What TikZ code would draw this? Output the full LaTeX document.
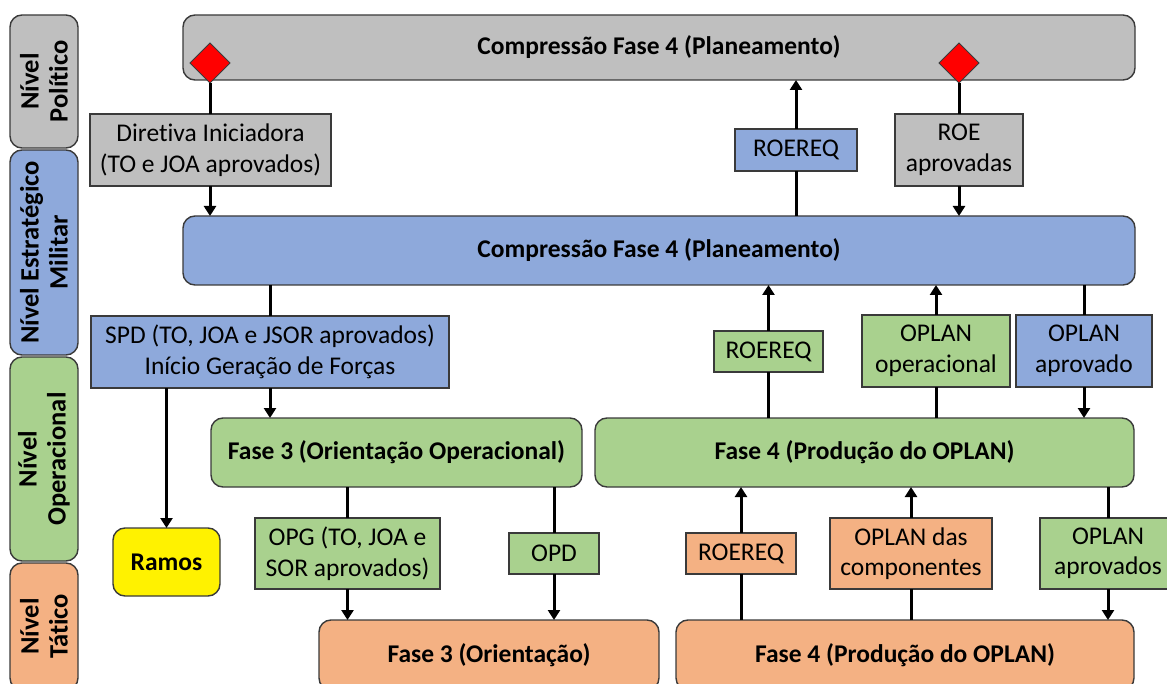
\documentclass[tikz,border=0pt]{standalone}
\usepackage{fontspec}
\setmainfont{Carlito}[Ligatures=NoCommon]
\usetikzlibrary{arrows.meta,shapes.geometric}

\definecolor{polgray}{HTML}{BFBFBF}
\definecolor{estblue}{HTML}{8EA9DB}
\definecolor{opgreen}{HTML}{A9D18E}
\definecolor{taorange}{HTML}{F4B183}
\definecolor{edgegray}{HTML}{3A3A3A}

\tikzset{
  every node/.style={font=\fontsize{25.5}{30.5}\selectfont, text=black, align=center,
                     inner sep=0pt, outer sep=0pt},
  rbox/.style={draw=edgegray, line width=1.4pt},
  phase/.style={rbox, rounded corners=12pt, font=\fontsize{25.5}{30.5}\selectfont\bfseries},
  level/.style={rbox, rounded corners=12pt, rotate=90, minimum height=68pt,
                font=\fontsize{26.5}{29}\selectfont\bfseries},
  flag/.style={diamond, draw=edgegray, line width=1pt, fill=red, minimum size=40pt},
  link/.style={line width=3pt, draw=black},
  flow/.style={link, -{Triangle[width=12pt,length=10pt]}},
}

\begin{document}
\begin{tikzpicture}[x=1pt, y=-1pt]
\useasboundingbox (0,0) rectangle (1167,684);

% level bands on the left
\node[level, fill=polgray,  minimum width=133pt] (lpol) at (44,81.5)  {Nível\\Político};
\node[level, fill=estblue,  minimum width=205pt] (lest) at (44,252.5) {Nível Estratégico\\Militar};
\node[level, fill=opgreen,  minimum width=204pt] (lope) at (44,459)   {Nível\\Operacional};
\node[level, fill=taorange, minimum width=127pt] (ltat) at (44,626.5) {Nível\\Tático};

% phase boxes
\node[phase, fill=polgray, minimum width=952pt, minimum height=65pt] (pol) at (659,47.5) {Compressão Fase 4 (Planeamento)};
\node[phase, fill=estblue, minimum width=952pt, minimum height=69pt] (est) at (659,250.5) {Compressão Fase 4 (Planeamento)};
\node[phase, fill=opgreen, minimum width=371pt, minimum height=69pt] (f3op) at (396.5,452.5) {Fase 3 (Orientação Operacional)};
\node[phase, fill=opgreen, minimum width=539pt, minimum height=69pt] (f4op) at (864.5,452.5) {Fase 4 (Produção do OPLAN)};
\node[phase, fill=taorange, minimum width=340pt, minimum height=70pt] (f3ta) at (489,655) {Fase 3 (Orientação)};
\node[phase, fill=taorange, minimum width=458pt, minimum height=70pt] (f4ta) at (905,655) {Fase 4 (Produção do OPLAN)};
\node[phase, fill=yellow, minimum width=107pt, minimum height=68pt] (ramos) at (166.5,562) {Ramos};

% decision markers
\node[flag] (d1) at (210,63) {};
\node[flag] (d2) at (959,63) {};

% document boxes
\node[rbox, fill=polgray, minimum width=241pt, minimum height=72pt] (dir) at (210.5,150) {Diretiva Iniciadora\\(TO e JOA aprovados)};
\node[rbox, fill=estblue, minimum width=122pt, minimum height=42pt] (rq1) at (796,150) {ROEREQ};
\node[rbox, fill=polgray, minimum width=128pt, minimum height=72pt] (roe) at (959,150) {ROE\\aprovadas};
\node[rbox, fill=estblue, minimum width=358pt, minimum height=72pt] (spd) at (270,352) {SPD (TO, JOA e JSOR aprovados)\\Início Geração de Forças};
\node[rbox, fill=opgreen, minimum width=109pt, minimum height=41pt] (rq2) at (768.5,351.5) {ROEREQ};
\node[rbox, fill=opgreen, minimum width=148pt, minimum height=72pt] (opo) at (936,351) {OPLAN\\operacional};
\node[rbox, fill=estblue, minimum width=136pt, minimum height=72pt] (opa) at (1084,351) {OPLAN\\aprovado};
\node[rbox, fill=opgreen, minimum width=185pt, minimum height=71pt] (opg) at (347.5,553.5) {OPG (TO, JOA e\\SOR aprovados)};
\node[rbox, fill=opgreen, minimum width=90pt, minimum height=41pt] (opd) at (554,553.5) {OPD};
\node[rbox, fill=taorange, minimum width=110pt, minimum height=41pt] (rq3) at (741,553.5) {ROEREQ};
\node[rbox, fill=taorange, minimum width=162pt, minimum height=71pt] (comp) at (911,553.5) {OPLAN das\\componentes};
\node[rbox, fill=opgreen, minimum width=136pt, minimum height=71pt] (opas) at (1108,553.5) {OPLAN\\aprovados};

% political <-> strategic
\draw[link] (d1.south) -- (d1.south |- dir.north);
\draw[flow] (dir.south -| d1.south) -- (d1.south |- est.north);
\draw[link] (est.north -| rq1.south) -- (rq1.south);
\draw[flow] (rq1.north) -- (rq1.north |- pol.south);
\draw[link] (d2.south) -- (roe.north);
\draw[flow] (roe.south) -- (roe.south |- est.north);

% strategic <-> operational
\draw[link] (est.south -| spd.north) -- (spd.north);
\draw[flow] (spd.south) -- (spd.south |- f3op.north);
\draw[flow] (spd.south -| ramos.north) -- (ramos.north);
\draw[link] (f4op.north -| rq2.south) -- (rq2.south);
\draw[flow] (rq2.north) -- (rq2.north |- est.south);
\draw[link] (f4op.north -| opo.south) -- (opo.south);
\draw[flow] (opo.north) -- (opo.north |- est.south);
\draw[link] (est.south -| opa.north) -- (opa.north);
\draw[flow] (opa.south) -- (opa.south |- f4op.north);

% operational <-> tactical
\draw[link] (f3op.south -| opg.north) -- (opg.north);
\draw[flow] (opg.south) -- (opg.south |- f3ta.north);
\draw[link] (f3op.south -| opd.north) -- (opd.north);
\draw[flow] (opd.south) -- (opd.south |- f3ta.north);
\draw[link] (f4ta.north -| rq3.south) -- (rq3.south);
\draw[flow] (rq3.north) -- (rq3.north |- f4op.south);
\draw[link] (f4ta.north -| comp.south) -- (comp.south);
\draw[flow] (comp.north) -- (comp.north |- f4op.south);
\draw[link] (f4op.south -| opas.north) -- (opas.north);
\draw[flow] (opas.south) -- (opas.south |- f4ta.north);
\end{tikzpicture}
\end{document}
